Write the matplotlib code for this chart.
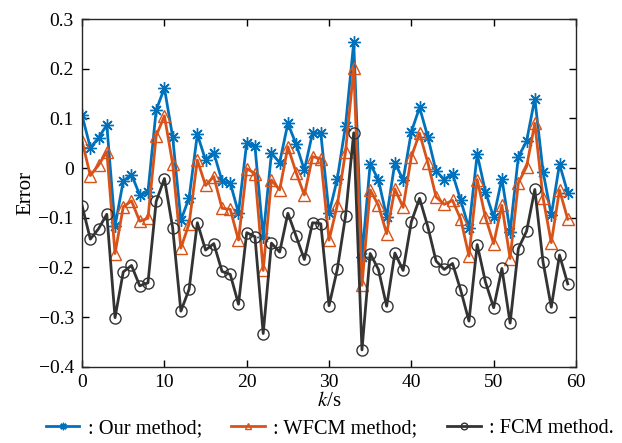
import numpy as np
import matplotlib
matplotlib.use("Agg")
import matplotlib.pyplot as plt

plt.rcParams['font.family'] = ['Liberation Serif', 'DejaVu Serif']
plt.rcParams['mathtext.fontset'] = 'stix'

k = np.arange(60)

our_method = [0.106, 0.041, 0.061, 0.087, -0.117, -0.026, -0.013, -0.054, -0.048, 0.117,
              0.161, 0.063, -0.105, -0.060, 0.068, 0.016, 0.031, -0.026, -0.030, -0.090,
              0.051, 0.044, -0.138, 0.030, 0.011, 0.090, 0.048, -0.004, 0.071, 0.070,
              -0.091, -0.022, 0.085, 0.253, -0.179, 0.009, -0.024, -0.098, 0.011, -0.024,
              0.073, 0.122, 0.063, -0.006, -0.023, -0.011, -0.065, -0.121, 0.028, -0.048,
              -0.099, -0.021, -0.128, 0.023, 0.054, 0.140, -0.007, -0.095, 0.008, -0.050]

wfcm = [0.054, -0.015, 0.006, 0.033, -0.172, -0.078, -0.066, -0.107, -0.101, 0.065,
        0.105, 0.009, -0.161, -0.112, 0.016, -0.035, -0.017, -0.081, -0.083, -0.145,
        -0.001, -0.011, -0.206, -0.024, -0.044, 0.043, -0.009, -0.054, 0.023, 0.019,
        -0.145, -0.075, 0.032, 0.201, -0.236, -0.044, -0.075, -0.132, -0.042, -0.079,
        0.023, 0.070, 0.011, -0.058, -0.073, -0.065, -0.103, -0.177, -0.023, -0.099,
        -0.152, -0.075, -0.182, -0.030, 0.003, 0.090, -0.060, -0.150, -0.044, -0.103]

fcm = [-0.076, -0.143, -0.122, -0.093, -0.301, -0.209, -0.196, -0.237, -0.231, -0.067,
       -0.021, -0.120, -0.288, -0.244, -0.110, -0.165, -0.152, -0.208, -0.214, -0.274,
       -0.130, -0.138, -0.333, -0.151, -0.169, -0.091, -0.137, -0.184, -0.110, -0.112,
       -0.277, -0.204, -0.097, 0.071, -0.366, -0.172, -0.204, -0.278, -0.171, -0.206,
       -0.108, -0.061, -0.118, -0.187, -0.204, -0.192, -0.246, -0.308, -0.154, -0.229,
       -0.281, -0.202, -0.312, -0.162, -0.127, -0.043, -0.189, -0.280, -0.175, -0.233]

fig = plt.figure(figsize=(6.22, 4.43), dpi=100)
ax = fig.add_axes([0.132, 0.172, 0.794, 0.785])

# asterisk like matlab '*'
star = (8, 2, 0)
l1, = ax.plot(k, our_method, color='#0072BD', lw=2, marker=star, ms=9, mew=1,
              label=': Our method;')
l2, = ax.plot(k, wfcm, color='#D95319', lw=2, marker='^', ms=8, mfc='none', mew=1,
              label=': WFCM method;')
l3, = ax.plot(k, fcm, color='#333333', lw=2, marker='o', ms=8, mfc='none', mew=1,
              label=': FCM method.')

ax.set_xlim(0, 60)
ax.set_ylim(-0.4, 0.3)
ax.set_xticks(range(0, 61, 10))
yt = [0.3, 0.2, 0.1, 0, -0.1, -0.2, -0.3, -0.4]
ax.set_yticks(yt)
ax.set_yticklabels(['0.3', '0.2', '0.1', '0', '\u22120.1', '\u22120.2', '\u22120.3', '\u22120.4'])
ax.tick_params(direction='in', top=True, right=True, labelsize=14, length=5, width=1)
ax.tick_params(axis='y', pad=6)
ax.tick_params(axis='x', pad=5)
for s in ax.spines.values():
    s.set_linewidth(1)
    s.set_color('#262626')

ax.set_xlabel('$k$/s', fontsize=15, labelpad=1)
ax.set_ylabel('Error', fontsize=15, labelpad=2)

fig.legend(handles=[l1, l2, l3], loc='lower center', ncol=3, frameon=False,
           fontsize=14.7, handlelength=1.65, handletextpad=0.4, columnspacing=1.45,
           markerscale=0.6, bbox_to_anchor=(0.53, -0.03))

fig.savefig('out.png', dpi=100)
